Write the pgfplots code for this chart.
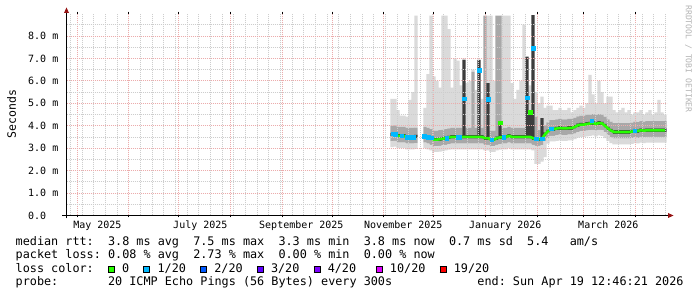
\documentclass[border=0pt]{standalone}
\usepackage{fontspec}
\setmainfont{DejaVu Sans Mono}
\usepackage{pgfplots}
\usepackage{pgfplotstable}
\pgfplotsset{compat=1.18}
\definecolor{mgrid}{RGB}{236,172,172}
\definecolor{gridc}{RGB}{205,205,205}
\definecolor{smokeL}{RGB}{218,218,218}
\definecolor{smokeM}{RGB}{168,168,168}
\definecolor{smokeD}{RGB}{60,60,60}
\definecolor{lc0}{HTML}{26FF00}
\definecolor{lc1}{HTML}{00B8FF}
\definecolor{lc2}{HTML}{0059FF}
\definecolor{lc3}{HTML}{5E00FF}
\definecolor{lc4}{HTML}{7E00FF}
\definecolor{lc10}{HTML}{DD00FF}
\definecolor{lc19}{HTML}{FF0000}
\definecolor{arrowc}{RGB}{150,20,20}

\pgfplotstableread{
d base L1 M1 D M2 L2
189.0 3.05 0.25 0.22 0.16 0.32 1.20
190.8 3.07 0.25 0.22 0.16 0.32 1.18
192.6 3.00 0.25 0.22 0.16 0.32 0.75
194.4 3.00 0.25 0.22 0.16 0.32 0.50
196.2 3.00 0.25 0.22 0.16 0.32 0.50
198.0 2.95 0.25 0.22 0.16 0.32 0.50
199.8 2.95 0.25 0.22 0.16 0.32 1.25
201.6 2.95 0.25 0.22 0.16 0.32 1.60
203.4 2.97 0.25 0.22 0.16 0.32 4.98
208.8 3.00 0.25 0.22 0.16 0.32 0.85
210.6 2.95 0.25 0.22 0.16 0.32 2.40
212.4 2.90 0.25 0.22 0.16 0.32 5.05
214.2 2.83 0.25 0.22 0.16 0.32 2.42
216.0 2.83 0.25 0.22 0.16 0.32 2.22
217.8 2.85 0.25 0.22 0.16 0.32 1.90
219.6 2.87 0.25 0.22 0.16 0.32 5.08
221.4 2.90 0.25 0.22 0.16 0.32 5.05
223.2 2.93 0.25 0.22 0.16 0.32 4.42
225.0 2.95 0.25 0.22 0.16 0.32 1.80
226.8 2.95 0.25 0.22 0.16 0.32 3.10
228.6 2.95 0.25 0.22 0.16 0.32 3.00
230.4 2.95 0.25 0.22 0.16 0.32 1.90
232.2 2.95 0.25 0.22 3.51 0.0 0.07
234.0 2.95 0.25 0.22 0.16 0.32 2.00
235.8 2.95 0.25 0.22 0.16 0.32 2.10
237.6 2.95 0.25 0.22 0.16 2.82 0.10
239.4 2.95 0.25 0.22 0.16 0.32 1.70
241.2 2.95 0.25 0.22 3.51 0.0 0.00
243.0 2.95 0.25 0.22 0.16 0.32 1.30
244.8 2.90 0.25 0.22 0.16 5.37 0.00
246.6 2.90 0.25 0.22 2.53 0.0 3.00
248.4 2.83 0.25 0.22 0.16 0.32 5.12
250.2 2.83 0.25 0.22 0.16 0.32 2.22
252.0 2.90 0.25 0.22 0.16 5.37 0.00
253.8 2.93 0.25 0.22 0.80 4.70 0.00
255.6 2.95 0.25 0.22 0.16 0.32 5.00
257.4 2.95 0.25 0.22 0.16 0.32 5.00
259.2 3.00 0.25 0.22 0.16 0.32 4.95
261.0 2.95 0.25 0.22 0.16 0.32 2.00
262.8 2.95 0.25 0.22 0.16 0.32 1.30
264.6 2.95 0.25 0.22 0.16 0.32 1.70
266.4 2.95 0.25 0.22 0.16 0.32 2.10
268.2 2.95 0.25 0.22 0.16 0.32 4.60
270.0 2.95 0.25 0.22 3.66 0.0 0.00
271.8 2.95 0.25 0.22 1.28 0.0 1.10
273.6 2.90 0.25 0.22 5.56 0.0 0.00
275.4 2.30 0.80 0.22 0.16 0.92 1.10
277.2 2.30 0.80 0.22 0.16 0.32 1.20
279.0 2.40 0.72 0.22 1.00 0.0 0.96
280.8 2.60 0.72 0.22 0.16 0.32 0.78
282.6 3.20 0.25 0.22 0.16 0.32 0.75
284.4 3.30 0.25 0.22 0.16 0.32 0.65
286.2 3.30 0.25 0.22 0.16 0.32 0.45
288.0 3.33 0.25 0.22 0.16 0.32 0.42
289.8 3.35 0.25 0.22 0.16 0.32 0.50
291.6 3.33 0.25 0.22 0.16 0.32 0.42
293.4 3.33 0.25 0.22 0.16 0.32 0.42
295.2 3.35 0.25 0.22 0.16 0.32 0.50
297.0 3.35 0.25 0.22 0.16 0.32 0.30
298.8 3.40 0.25 0.22 0.16 0.32 0.35
300.6 3.47 0.25 0.22 0.16 0.32 0.38
302.4 3.50 0.25 0.22 0.16 0.32 0.45
304.2 3.50 0.25 0.22 0.16 0.32 0.35
306.0 3.53 0.25 0.22 0.16 0.32 0.52
307.8 3.55 0.25 0.22 0.16 0.32 1.76
309.6 3.57 0.25 0.22 0.16 0.32 0.88
311.4 3.53 0.25 0.22 0.16 0.32 0.52
313.2 3.57 0.25 0.22 0.16 0.32 1.48
315.0 3.55 0.25 0.22 0.16 0.32 1.00
316.8 3.45 0.25 0.22 0.16 0.32 0.60
318.6 3.33 0.25 0.22 0.16 0.32 1.02
320.4 3.23 0.25 0.22 0.16 0.32 1.12
322.2 3.17 0.25 0.22 0.16 0.32 0.58
324.0 3.17 0.25 0.22 0.16 0.32 0.48
325.8 3.17 0.25 0.22 0.16 0.32 0.58
327.6 3.17 0.25 0.22 0.16 0.32 0.68
329.4 3.17 0.25 0.22 0.16 0.32 0.48
331.2 3.17 0.25 0.22 0.16 0.32 0.58
333.0 3.19 0.25 0.22 0.16 0.32 0.36
334.8 3.23 0.25 0.22 0.16 0.32 0.42
336.6 3.21 0.25 0.22 0.16 0.32 0.44
338.4 3.25 0.25 0.22 0.16 0.32 0.50
340.2 3.23 0.25 0.22 0.16 0.32 0.32
342.0 3.25 0.25 0.22 0.16 0.32 0.40
343.8 3.25 0.25 0.22 0.16 0.32 0.50
345.6 3.25 0.25 0.22 0.16 0.32 0.30
347.4 3.25 0.25 0.22 0.16 0.32 0.40
349.2 3.25 0.25 0.22 0.16 0.32 0.95
351.0 3.25 0.25 0.22 0.16 0.32 0.40
352.8 3.25 0.25 0.22 0.16 0.32 0.30
}\smoke

\pgfplotstableread{
d m
189.0 3.60
190.8 3.62
192.6 3.55
194.4 3.55
196.2 3.55
198.0 3.50
199.8 3.50
201.6 3.50
203.4 3.52
}\medA

\pgfplotstableread{
d m
208.8 3.55
210.6 3.50
212.4 3.45
214.2 3.38
216.0 3.38
217.8 3.40
219.6 3.42
221.4 3.45
223.2 3.48
225.0 3.50
226.8 3.50
228.6 3.50
230.4 3.50
232.2 3.50
234.0 3.50
235.8 3.50
237.6 3.50
239.4 3.50
241.2 3.50
243.0 3.50
244.8 3.45
246.6 3.45
248.4 3.38
250.2 3.38
252.0 3.45
253.8 3.48
255.6 3.50
257.4 3.50
259.2 3.55
261.0 3.50
262.8 3.50
264.6 3.50
266.4 3.50
268.2 3.50
270.0 3.50
271.8 3.50
273.6 3.45
275.4 3.40
277.2 3.40
279.0 3.42
280.8 3.62
282.6 3.75
284.4 3.85
286.2 3.85
288.0 3.88
289.8 3.90
291.6 3.88
293.4 3.88
295.2 3.90
297.0 3.90
298.8 3.95
300.6 4.02
302.4 4.05
304.2 4.05
306.0 4.08
307.8 4.10
309.6 4.12
311.4 4.08
313.2 4.12
315.0 4.10
316.8 4.00
318.6 3.88
320.4 3.78
322.2 3.72
324.0 3.72
325.8 3.72
327.6 3.72
329.4 3.72
331.2 3.72
333.0 3.74
334.8 3.78
336.6 3.76
338.4 3.80
340.2 3.78
342.0 3.80
343.8 3.80
345.6 3.80
347.4 3.80
349.2 3.80
351.0 3.80
352.8 3.80
}\medB

\pgfplotstableread{
d v
189.5 3.66
190.8 3.62
194.9 3.55
198.0 3.50
199.8 3.50
201.6 3.50
208.3 3.53
210.6 3.49
212.4 3.47
221.6 3.45
228.5 3.50
229.7 3.50
232.2 5.22
241.2 6.48
246.6 5.18
248.9 3.38
256.0 3.50
270.0 5.25
273.6 7.45
275.4 3.42
279.0 3.42
284.4 3.88
308.7 4.22
334.7 3.78
}\bluepts

\pgfplotstableread{
d v
253.8 4.14
271.8 4.60
}\greenpts

\newcommand\sq[1]{{\setlength{\fboxsep}{0pt}\setlength{\fboxrule}{1bp}\fcolorbox{black}{#1}{\rule{0pt}{5bp}\rule{5bp}{0pt}}}}
\newcommand\legfont{\fontsize{11.8bp}{13bp}\selectfont}

\begin{document}
\frenchspacing
\begin{tikzpicture}
\useasboundingbox[fill=white] (0,0) rectangle (697bp,297bp);

\begin{axis}[
  at={(66.5bp,81.5bp)}, anchor=south west,
  width=600bp, height=202bp, scale only axis,
  xmin=-6.3, xmax=353.7, ymin=0, ymax=9,
  axis on top,
  axis line style={draw=none},
  ybar stacked, bar width=1.95,
  xtick={0,31,61,92,123,153,184,214,245,276,304,335},
  xticklabels={,,,,,,,,,,,},
  minor xtick={-4,3,...,353},
  extra x ticks={12.2,74,134.6,195.8,257,318.8},
  extra x tick labels={May 2025,July 2025,September 2025,November 2025,January 2026,March 2026},
  extra x tick style={grid=none, major tick length=0pt,
    xticklabel style={anchor=base, inner sep=0pt, yshift=-12.8bp}},
  ytick={0,1,2,3,4,5,6,7,8},
  yticklabels={0.0,1.0 m,2.0 m,3.0 m,4.0 m,5.0 m,6.0 m,7.0 m,8.0 m},
  minor ytick={0.5,1.5,2.5,3.5,4.5,5.5,6.5,7.5,8.5},
  grid=both,
  major grid style={draw=mgrid, line width=0.8bp, dash pattern=on 1bp off 1bp},
  minor grid style={draw=gridc, line width=0.8bp, dash pattern=on 1bp off 1bp},
  tick align=outside, major tick length=2bp, minor tick length=0pt,
  xtick style={draw=black, line width=0.8bp},
  ytick style={draw=none},
  tick label style={font=\fontsize{10bp}{12bp}\selectfont, text=black},
  yticklabel style={anchor=west, inner sep=0pt, xshift=-36.5bp},
]
\addplot[draw=none, fill=none] table[x=d,y=base]{\smoke};
\addplot[draw=none, fill=smokeL] table[x=d,y=L1]{\smoke};
\addplot[draw=none, fill=smokeM] table[x=d,y=M1]{\smoke};
\addplot[draw=none, fill=smokeD] table[x=d,y=D]{\smoke};
\addplot[draw=none, fill=smokeM] table[x=d,y=M2]{\smoke};
\addplot[draw=none, fill=smokeL] table[x=d,y=L2]{\smoke};
\end{axis}

\begin{axis}[
  at={(66.5bp,81.5bp)}, anchor=south west,
  width=600bp, height=202bp, scale only axis,
  xmin=-6.3, xmax=353.7, ymin=0, ymax=9,
  hide axis,
]
\addplot[lc0, line width=2.6bp, no marks] table[x=d,y=m]{\medA};
\addplot[lc0, line width=2.6bp, no marks] table[x=d,y=m]{\medB};
\addplot[lc1, only marks, mark=square*, mark size=1.7bp, mark options={draw=lc1, fill=lc1, line width=0.2bp}] table[x=d,y=v]{\bluepts};
\addplot[lc0, only marks, mark=square*, mark size=1.7bp, mark options={draw=lc0, fill=lc0, line width=0.2bp}] table[x=d,y=v]{\greenpts};
\end{axis}

% axis lines and arrows
\draw[black, line width=1bp] (62bp,81.5bp) -- (668bp,81.5bp);
\draw[black, line width=1bp] (66.5bp,78.5bp) -- (66.5bp,284bp);
\fill[arrowc] (668bp,84bp) -- (673.5bp,81.5bp) -- (668bp,79bp) -- cycle;
\fill[arrowc] (64bp,284bp) -- (66.5bp,289.5bp) -- (69bp,284bp) -- cycle;

% labels
\node[rotate=90, inner sep=0pt, font=\fontsize{11.5bp}{13bp}\selectfont] at (11.5bp,183bp) {Seconds};
\node[rotate=-90, inner sep=0pt, font=\fontsize{8.1bp}{9bp}\selectfont, text={rgb,255:red,180;green,180;blue,180}] at (688.5bp,238bp) {RRDTOOL / TOBI OETIKER};

% legend rows
\node[anchor=base west, inner sep=0pt, font=\legfont] at (15.5bp,51.4bp)
  {median rtt:~~3.8 ms avg~~7.5 ms max~~3.3 ms min~~3.8 ms now~~0.7 ms sd~~5.4~~~am/s};
\node[anchor=base west, inner sep=0pt, font=\legfont] at (15.5bp,38.2bp)
  {packet loss:~0.08 \% avg~~2.73 \% max~~0.00 \% min~~0.00 \% now};
\node[anchor=base west, inner sep=0pt, font=\legfont] at (15.5bp,25.0bp)
  {loss color:~~\sq{lc0}~0~~\sq{lc1}~1/20~~\sq{lc2}~2/20~~\sq{lc3}~3/20~~\sq{lc4}~4/20~~\hspace{5.5bp}\sq{lc10}~10/20~~\sq{lc19}~19/20};
\node[anchor=base west, inner sep=0pt, font=\legfont] at (15.5bp,11.8bp)
  {probe:~~~~~~~20 ICMP Echo Pings (56 Bytes) every 300s~~~~~~~~~~~~end: Sun Apr 19 12:46:21 2026};
\end{tikzpicture}
\end{document}
